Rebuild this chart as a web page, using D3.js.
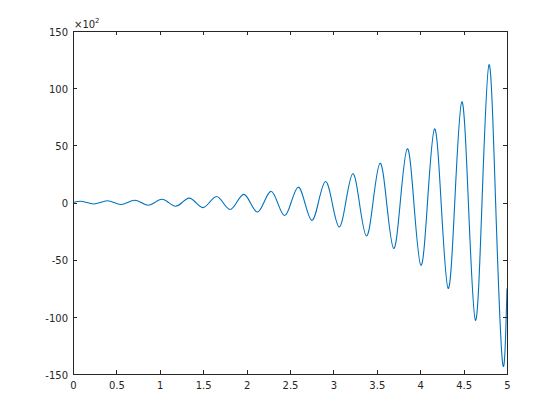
<!DOCTYPE html>
<meta charset="utf-8">
<style>
body { margin: 0; background: #fff; }
svg { display: block; }
text { font-family: 'DejaVu Sans', sans-serif; font-size: 10px; fill: #262626; }
.axis path, .axis line { stroke: #262626; stroke-width: 1; fill: none; shape-rendering: crispEdges; }
.curve { fill: none; stroke: #0072bd; stroke-width: 1.1; }
</style>
<body>
<script src="https://cdn.jsdelivr.net/npm/d3@7"></script>
<script>
// values (y in units of 10^2)
var tVals = [0, 0.081, 0.157, 0.238, 0.314, 0.395, 0.471, 0.552, 0.628, 0.709, 0.785, 0.866,
  0.942, 1.023, 1.100, 1.181, 1.257, 1.338, 1.414, 1.495, 1.571, 1.652, 1.728, 1.809,
  1.885, 1.966, 2.042, 2.123, 2.199, 2.280, 2.356, 2.437, 2.513, 2.594, 2.670, 2.751,
  2.827, 2.908, 2.985, 3.065, 3.142, 3.223, 3.299, 3.380, 3.456, 3.537, 3.613, 3.694,
  3.770, 3.851, 3.927, 4.008, 4.084, 4.165, 4.241, 4.322, 4.398, 4.479, 4.555, 4.636,
  4.712, 4.793, 4.869, 4.950, 5.0];
var yVals = [0, 1.08, 0, -1.27, 0, 1.48, 0, -1.73, 0, 2.03, 0, -2.37,
  0, 2.78, 0, -3.25, 0, 3.81, 0, -4.45, 0, 5.21, 0, -6.10,
  0, 7.13, 0, -8.35, 0, 9.77, 0, -11.4, 0, 13.4, 0, -15.6,
  0, 18.3, 0, -21.4, 0, 25.1, 0, -29.3, 0, 34.3, 0, -40.2,
  0, 47.0, 0, -55.0, 0, 64.3, 0, -75.2, 0, 88.0, 0, -103.0,
  0, 120.5, 0, -141.0, -75.2];
var xTicks = [0, 0.5, 1, 1.5, 2, 2.5, 3, 3.5, 4, 4.5, 5];
var yTicks = [-150, -100, -50, 0, 50, 100, 150];

var W = 560, H = 420;
var plotL = 73, plotR = 507, plotT = 31, plotB = 374;

var svg = d3.select("body").append("svg")
  .attr("width", W).attr("height", H);

var x = d3.scaleLinear().domain([0, 5]).range([plotL, plotR]);
var y = d3.scaleLinear().domain([-150, 150]).range([plotB, plotT]);

var data = tVals.map(function(t, i) { return [t, yVals[i]]; });

var line = d3.line()
  .x(function(d) { return x(d[0]); })
  .y(function(d) { return y(d[1]); })
  .curve(d3.curveNatural);

svg.append("path")
  .attr("class", "curve")
  .attr("d", line(data));

// axes, ticks pointing inward, box on
svg.append("g").attr("class", "axis")
  .attr("transform", "translate(0," + plotB + ")")
  .call(d3.axisBottom(x).tickValues(xTicks).tickSizeInner(-4).tickSizeOuter(0)
    .tickPadding(8).tickFormat(function(d) { return String(d); }));

svg.append("g").attr("class", "axis")
  .attr("transform", "translate(0," + plotT + ")")
  .call(d3.axisTop(x).tickValues(xTicks).tickSizeInner(-4).tickSizeOuter(0).tickFormat(""));

var yl = svg.append("g").attr("class", "axis")
  .attr("transform", "translate(" + plotL + ",0)")
  .call(d3.axisLeft(y).tickValues(yTicks).tickSizeInner(-4).tickSizeOuter(0)
    .tickPadding(5).tickFormat(function(d) { return String(d); }));
yl.selectAll("text").attr("dy", "0.42em");

svg.append("g").attr("class", "axis")
  .attr("transform", "translate(" + plotR + ",0)")
  .call(d3.axisRight(y).tickValues(yTicks).tickSizeInner(-4).tickSizeOuter(0).tickFormat(""));

svg.selectAll(".axis .domain").attr("stroke", "#262626");
svg.selectAll(".axis text").attr("fill", "#262626");

// exponent label
var ex = svg.append("text").attr("x", plotL + 1).attr("y", 28);
ex.append("tspan").text("\u00d710");
ex.append("tspan").attr("dy", -5).style("font-size", "7px").text("2");
</script>
</body>
